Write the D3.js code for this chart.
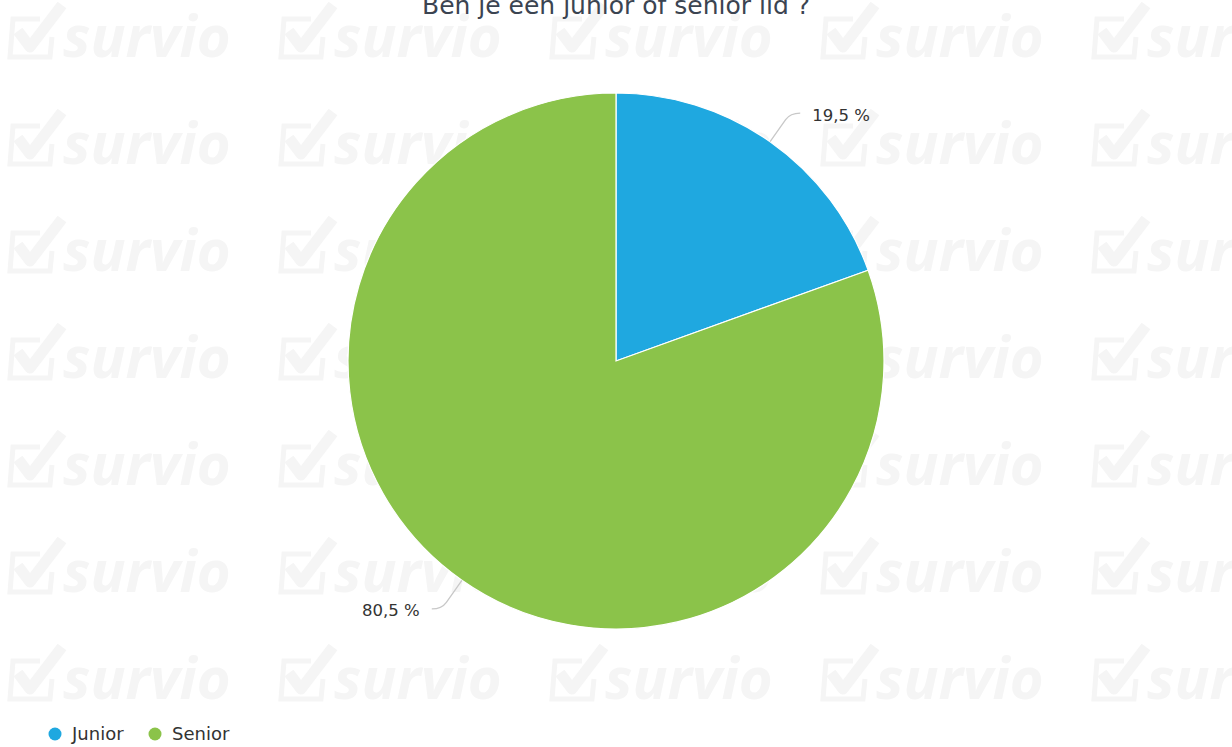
<!DOCTYPE html>
<html>
<head>
<meta charset="utf-8">
<script src="https://cdn.jsdelivr.net/npm/d3@7"></script>
<style>
  body { margin: 0; background: #fff; }
  svg { display: block; }
</style>
</head>
<body>
<svg id="chart" width="1232" height="747"></svg>
<script>
// data
const categories = ["Junior", "Senior"];
const percentages = [19.5, 80.5];
const colors = ["#1fa8e0", "#8bc34a"];
const titleText = "Ben je een junior of senior lid ?";

const width = 1232, height = 747;
const cx = 616, cy = 361, radius = 268;
const wmColor = "#f5f5f5";

const svg = d3.select("#chart");

// survio watermark grid
let wm = svg.append("g").attr("id", "watermark");
let wmCols = d3.range(5).map(function(i){ return 10 + i*271; });
let wmRows = d3.range(7).map(function(i){ return 57 + i*107; });
wmRows.forEach(function(y){
  wmCols.forEach(function(x){
    let g = wm.append("g").attr("transform", "translate(" + x + "," + y + ")");
    // checkbox
    g.append("path")
      .attr("d", "M30,-38 L3,-38 L0,0 L40,0 L42,-20")
      .attr("fill", "none")
      .attr("stroke", wmColor)
      .attr("stroke-width", 5);
    g.append("path")
      .attr("d", "M8,-26 L20,-10 L52,-52")
      .attr("fill", "none")
      .attr("stroke", wmColor)
      .attr("stroke-width", 11)
      .attr("stroke-linejoin", "round");
    g.append("text")
      .attr("x", 53)
      .attr("y", 0)
      .attr("font-family", "Open Sans, DejaVu Sans, sans-serif")
      .attr("font-weight", "bold")
      .attr("font-style", "italic")
      .attr("font-size", 58)
      .attr("fill", wmColor)
      .text("survio");
  });
});

// title
svg.append("text")
  .attr("x", cx)
  .attr("y", 14)
  .attr("text-anchor", "middle")
  .attr("font-family", "DejaVu Sans, sans-serif")
  .attr("font-size", 25)
  .attr("fill", "#3b4451")
  .text(titleText);

// pie
let data = categories.map(function(c, i){ return {name: c, value: percentages[i], color: colors[i]}; });
let pie = d3.pie().sort(null).value(function(d){ return d.value; });
let arcs = pie(data);
let arc = d3.arc().innerRadius(0).outerRadius(radius);

let pg = svg.append("g").attr("transform", "translate(" + cx + "," + cy + ")");
pg.selectAll("path.slice")
  .data(arcs)
  .enter()
  .append("path")
  .attr("class", "slice")
  .attr("d", arc)
  .attr("fill", function(d){ return d.data.color; })
  .attr("stroke", "#ffffff")
  .attr("stroke-width", 1.2);

// connectors + labels
function pt(a, r){ return [r*Math.sin(a), -r*Math.cos(a)]; }
let fmt = function(v){ return String(v).replace(".", ",") + " %"; };

arcs.forEach(function(d){
  let a = (d.startAngle + d.endAngle)/2;
  let side = Math.sin(a) >= 0 ? 1 : -1;
  let p0 = pt(a, radius);
  let p1 = pt(a, radius + 27);
  let c = pt(a, radius + 35);
  let end = [c[0] + side*10, c[1]];
  pg.append("path")
    .attr("d", "M" + p0 + "L" + p1 + "Q" + c + " " + end)
    .attr("fill", "none")
    .attr("stroke", "#c8c8c8")
    .attr("stroke-width", 1.3);
  pg.append("text")
    .attr("x", end[0] + side*12)
    .attr("y", end[1] + 3)
    .attr("dominant-baseline", "middle")
    .attr("text-anchor", side > 0 ? "start" : "end")
    .attr("font-family", "DejaVu Sans, sans-serif")
    .attr("font-size", 16.5)
    .attr("fill", "#333333")
    .text(fmt(d.data.value));
});

// legend
let lg = svg.append("g").attr("transform", "translate(55,734)");
let legendX = [0, 100];
categories.forEach(function(c, i){
  let item = lg.append("g").attr("transform", "translate(" + legendX[i] + ",0)");
  item.append("circle").attr("r", 6.5).attr("fill", colors[i]);
  item.append("text")
    .attr("x", 17)
    .attr("y", 1)
    .attr("dominant-baseline", "middle")
    .attr("font-family", "DejaVu Sans, sans-serif")
    .attr("font-size", 18)
    .attr("fill", "#333333")
    .text(c);
});
</script>
</body>
</html>
